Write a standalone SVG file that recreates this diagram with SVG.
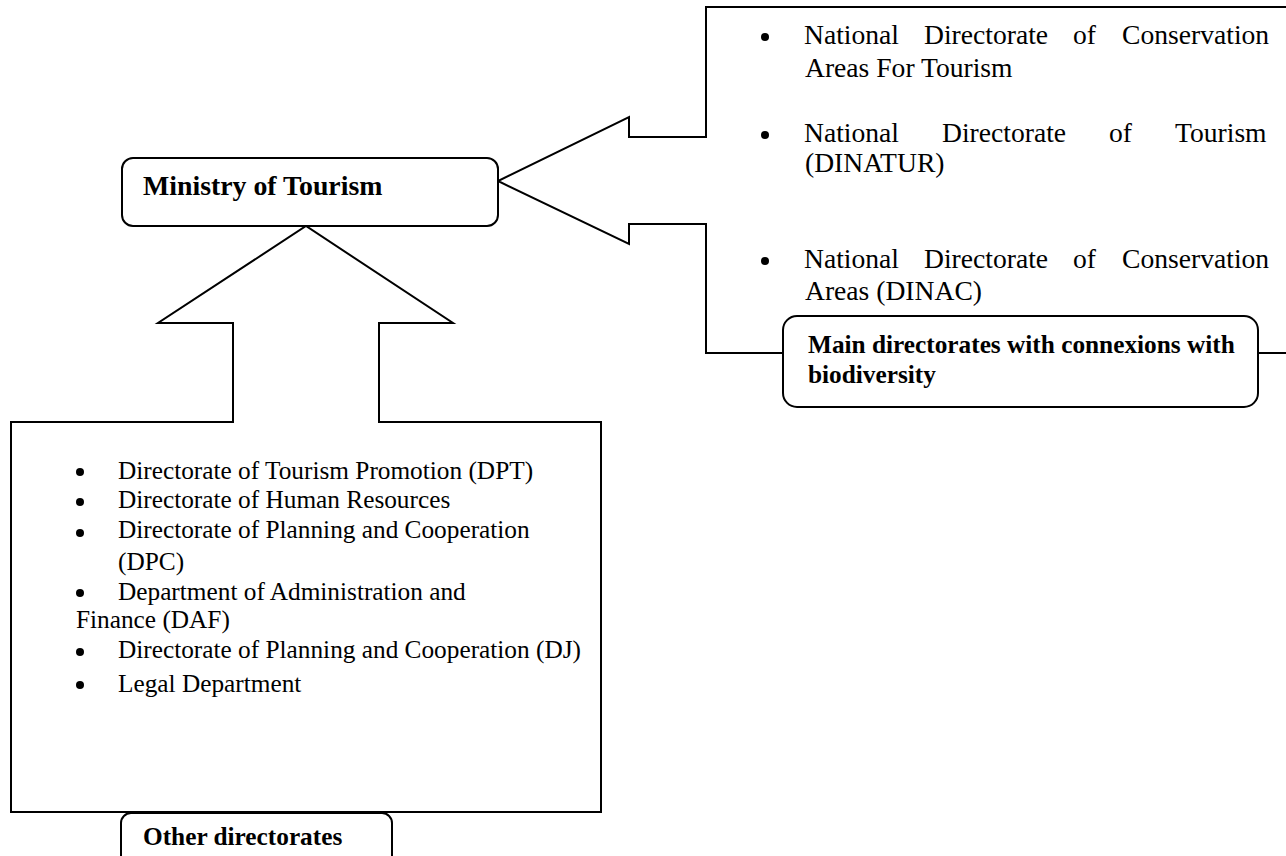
<svg xmlns="http://www.w3.org/2000/svg" width="1286" height="856" viewBox="0 0 1286 856">
<style>
.sh{fill:#fff;stroke:#000;stroke-width:2;stroke-linejoin:miter}
.lb{fill:#fff;stroke:#000;stroke-width:2}
.t{fill:#000}
.r{font-size:27.6px}
.l{font-size:25.3px}
.b{font-weight:bold;font-size:25.3px}
.m{font-weight:bold;font-size:27.8px}
</style>
<rect width="1286" height="856" fill="#fff"/>
<g id="connectors">
<path id="up-arrow-box" class="sh" d="M11,422 L233,422 L233,323 L158,323 L306,226 L453,323 L379,323 L379,422 L601,422 L601,812 L11,812 Z"/>
<path id="left-arrow-box" class="sh" d="M1300,7 L706,7 L706,137 L629,137 L629,117 L498,181 L629,244 L629,224 L706,224 L706,353 L1300,353"/>
</g>
<g font-family="'Liberation Serif', 'DejaVu Serif', serif">
<g id="ministry">
<rect class="lb" x="122" y="158" width="376" height="68" rx="11"/>
<text class="t m" x="143" y="195">Ministry of Tourism</text>
</g>
<g id="main-directorates-list">
<circle cx="765" cy="37" r="4"/>
<text class="t r" y="44"><tspan x="804">National</tspan><tspan x="924">Directorate</tspan><tspan x="1073">of</tspan><tspan x="1122">Conservation</tspan></text>
<text class="t r" x="805" y="77">Areas For Tourism</text>
<circle cx="765" cy="135" r="4"/>
<text class="t r" y="142"><tspan x="804">National</tspan><tspan x="942">Directorate</tspan><tspan x="1109">of</tspan><tspan x="1175">Tourism</tspan></text>
<text class="t r" x="805" y="172">(DINATUR)</text>
<circle cx="765" cy="261" r="4"/>
<text class="t r" y="268"><tspan x="804">National</tspan><tspan x="924">Directorate</tspan><tspan x="1073">of</tspan><tspan x="1122">Conservation</tspan></text>
<text class="t r" x="805" y="300">Areas (DINAC)</text>
</g>
<g id="main-label">
<rect class="lb" x="783" y="316" width="475" height="91" rx="14"/>
<text class="t b" x="808" y="353">Main directorates with connexions with</text>
<text class="t b" x="808" y="383">biodiversity</text>
</g>
<g id="other-directorates-list">
<circle cx="80" cy="472" r="4"/>
<text class="t l" x="118" y="479">Directorate of Tourism Promotion (DPT)</text>
<circle cx="80" cy="502" r="4"/>
<text class="t l" x="118" y="508">Directorate of Human Resources</text>
<circle cx="80" cy="533" r="4"/>
<text class="t l" x="118" y="538">Directorate of Planning and Cooperation</text>
<text class="t l" x="118" y="570">(DPC)</text>
<circle cx="80" cy="593" r="4"/>
<text class="t l" x="118" y="600">Department of Administration and</text>
<text class="t l" x="76" y="628">Finance (DAF)</text>
<circle cx="80" cy="652" r="4"/>
<text class="t l" x="118" y="658">Directorate of Planning and Cooperation (DJ)</text>
<circle cx="80" cy="685" r="4"/>
<text class="t l" x="118" y="692">Legal Department</text>
</g>
<g id="other-label">
<rect class="lb" x="121" y="813" width="271" height="70" rx="10"/>
<text class="t b" x="143" y="845">Other directorates</text>
</g>
</g>
</svg>
